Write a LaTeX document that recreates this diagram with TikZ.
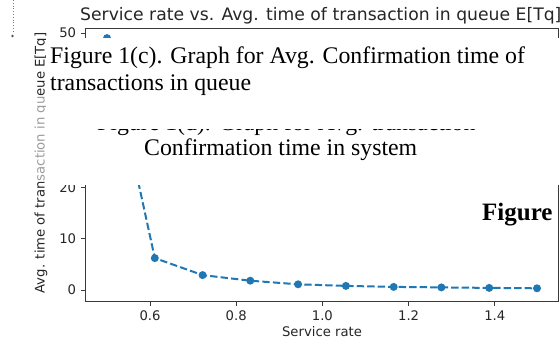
\documentclass[tikz,border=0pt]{standalone}
\usepackage{fontspec}
\newfontfamily\mplfont{DejaVu Sans}
\newfontfamily\tnrfont{Liberation Serif}
\definecolor{mplblue}{HTML}{1F77B4}
\definecolor{spinecol}{HTML}{3A3A3A}
\definecolor{labcol}{HTML}{262626}
\begin{document}
\begin{tikzpicture}[x=1pt,y=-1pt,
  ticklab/.style={font=\mplfont\fontsize{13.2}{15}\selectfont, text=labcol, inner sep=0pt},
  titlelab/.style={font=\mplfont\fontsize{17.2}{20}\selectfont, text=labcol, inner sep=0pt},
  caption/.style={font=\tnrfont\fontsize{23.8}{27}\selectfont, text=black, inner sep=0pt},
  boldcap/.style={font=\tnrfont\bfseries\fontsize{25}{28}\selectfont, text=black, inner sep=0pt},
  spineline/.style={draw=spinecol, line width=1pt},
  dataline/.style={draw=mplblue, line width=2pt, dash pattern=on 7.3pt off 3.2pt},
  coverbox/.style={fill=white, draw=none}]
\useasboundingbox (0,0) rectangle (560,343);
\fill[white] (0,0) rectangle (560,343);

% stray fragment at the top left
\draw[gray, dotted, line width=0.8pt] (13,0) -- (13,33);
\fill[gray!70!black] (12.5,36) circle[radius=1.3pt];

% axes frame
\coordinate (axNW) at (85.5,28);
\coordinate (axSE) at (558.5,301);
\draw[spineline] (axNW) rectangle (axSE);

% x ticks
\foreach \v/\lab in {150/0.6, 236.2/0.8, 322.4/1.0, 408.6/1.2, 494.8/1.4} {
  \draw[spineline] (\v,301) -- (\v,305.6);
  \node[ticklab, anchor=north] at (\v,310.5) {\lab};
}
% y ticks
\foreach \v/\lab in {290/0, 238.6/10, 187.2/20, 135.8/30, 84.4/40, 33/50} {
  \draw[spineline] (85.5,\v) -- (80.9,\v);
  \node[ticklab, anchor=east] at (76.3,\v) {\lab};
}

% axis labels and title
\node[ticklab, anchor=base] (xlab) at (322,336) {Service rate};
\node[ticklab, rotate=90, anchor=center] (ylab) at (41,163) {Avg. time of transaction in queue E[Tq]};
\node[titlelab, anchor=base west] (title) at (80,20) {Service rate vs. Avg. time of transaction in queue E[Tq]};

% data
\foreach \n/\px/\py in {0/107/38.1, 1/154.8/258.1, 2/202.6/275.1, 3/250.3/280.7, 4/298.1/284.3,
  5/345.9/285.9, 6/393.7/286.9, 7/441.4/287.4, 8/489.2/287.9, 9/537/288.3} {
  \coordinate (p\n) at (\px,\py);
}
\draw[dataline] (p0) -- (p1) -- (p2) -- (p3) -- (p4) -- (p5) -- (p6) -- (p7) -- (p8) -- (p9);
\foreach \n in {0,...,9} { \fill[mplblue] (p\n) circle[radius=4pt]; }

% faded middle of the y label
\fill[white, opacity=0.55] (30,95) rectangle (50,182);

% caption of figure 1(d), lying underneath
\fill[coverbox] (46,100) rectangle (560,185);
\node[caption, anchor=base west] (capd1) at (97,130) {Figure 1(d). Graph for Avg. transaction};
\node[caption, anchor=base west] (capd2) at (144,155) {Confirmation time in system};

% caption of figure 1(c), lying on top
\fill[coverbox] (46,38) rectangle (560,129);
\node[caption, anchor=base west] (capc1) at (50,63) {Figure 1(c). Graph for Avg. Confirmation time of};
\node[caption, anchor=base west] (capc2) at (50,90) {transactions in queue};

% bold word at the right
\node[boldcap, anchor=base west] (figword) at (482,220) {Figure};
\end{tikzpicture}
\end{document}
